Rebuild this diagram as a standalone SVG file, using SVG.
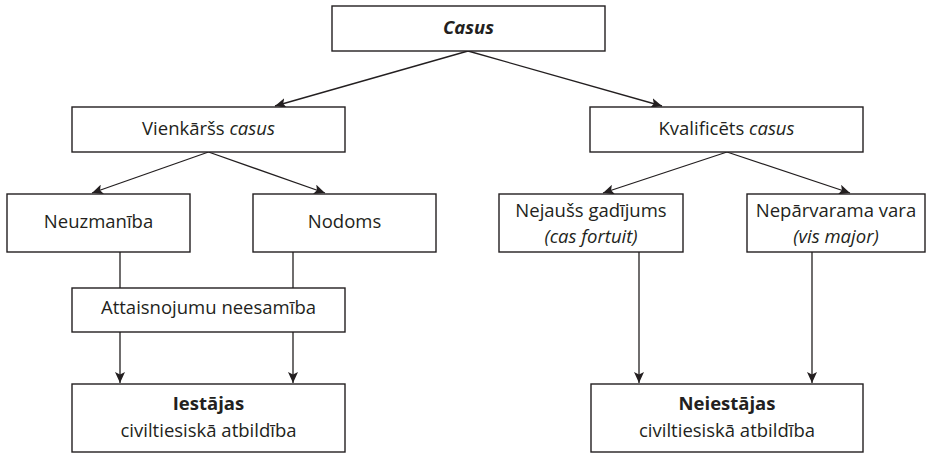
<svg xmlns="http://www.w3.org/2000/svg" width="926" height="454" viewBox="0 0 926 454">
<style>
.box{fill:#fff;stroke:#231f20;stroke-width:1.4}
.t{font-family:"Open Sans","Noto Sans","Liberation Sans",sans-serif;font-size:18.5px;fill:#231f20;text-anchor:middle}
.i{font-style:italic}
.b{font-weight:bold}
.c{fill:none;stroke:#231f20;stroke-width:1.3}
</style>
<defs>
<marker id="ah" markerUnits="userSpaceOnUse" markerWidth="12" markerHeight="10" refX="11" refY="5" orient="auto">
<path d="M0,0 L11,5 L0,10 L2.5,5 Z" fill="#231f20"/>
</marker>
</defs>
<g id="connectors">
<line class="c" x1="468" y1="51" x2="275" y2="106" marker-end="url(#ah)"/>
<line class="c" x1="468" y1="51" x2="662" y2="106" marker-end="url(#ah)"/>
<line class="c" x1="208.5" y1="152" x2="92" y2="193" marker-end="url(#ah)"/>
<line class="c" x1="208.5" y1="152" x2="325" y2="193" marker-end="url(#ah)"/>
<line class="c" x1="727" y1="152" x2="603" y2="193" marker-end="url(#ah)"/>
<line class="c" x1="727" y1="152" x2="850" y2="193" marker-end="url(#ah)"/>
<line class="c" x1="120" y1="252" x2="120" y2="288"/>
<line class="c" x1="293" y1="252" x2="293" y2="288"/>
<line class="c" x1="120" y1="332" x2="120" y2="383" marker-end="url(#ah)"/>
<line class="c" x1="293" y1="332" x2="293" y2="383" marker-end="url(#ah)"/>
<line class="c" x1="639" y1="252" x2="639" y2="383" marker-end="url(#ah)"/>
<line class="c" x1="812" y1="252" x2="812" y2="383" marker-end="url(#ah)"/>
</g>
<g id="casus">
<rect class="box" x="332" y="6" width="273" height="45"/>
<text class="t i b" x="468.5" y="34">Casus</text>
</g>
<g id="vienkarss">
<rect class="box" x="72" y="107" width="273" height="45"/>
<text class="t" x="208.5" y="135">Vienkāršs <tspan class="i">casus</tspan></text>
</g>
<g id="kvalificets">
<rect class="box" x="590" y="107" width="273" height="45"/>
<text class="t" x="726.5" y="135">Kvalificēts <tspan class="i">casus</tspan></text>
</g>
<g id="neuzmaniba">
<rect class="box" x="7" y="194" width="183" height="58"/>
<text class="t" x="98.5" y="228">Neuzmanība</text>
</g>
<g id="nodoms">
<rect class="box" x="253" y="194" width="183" height="58"/>
<text class="t" x="344.5" y="228">Nodoms</text>
</g>
<g id="nejauss">
<rect class="box" x="499" y="194" width="184" height="58"/>
<text class="t" x="591" y="217">Nejaušs gadījums</text>
<text class="t i" x="591" y="243">(cas fortuit)</text>
</g>
<g id="neparvarama">
<rect class="box" x="747" y="194" width="178" height="58"/>
<text class="t" x="836" y="217">Nepārvarama vara</text>
<text class="t i" x="836" y="243">(vis major)</text>
</g>
<g id="attaisnojumu">
<rect class="box" x="72" y="288" width="273" height="44"/>
<text class="t" x="208.5" y="314">Attaisnojumu neesamība</text>
</g>
<g id="iestajas">
<rect class="box" x="72" y="384" width="273" height="68"/>
<text class="t b" x="208.5" y="410">Iestājas</text>
<text class="t" x="208.5" y="437">civiltiesiskā atbildība</text>
</g>
<g id="neiestajas">
<rect class="box" x="591" y="384" width="272" height="68"/>
<text class="t b" x="727" y="410">Neiestājas</text>
<text class="t" x="727" y="437">civiltiesiskā atbildība</text>
</g>
</svg>
